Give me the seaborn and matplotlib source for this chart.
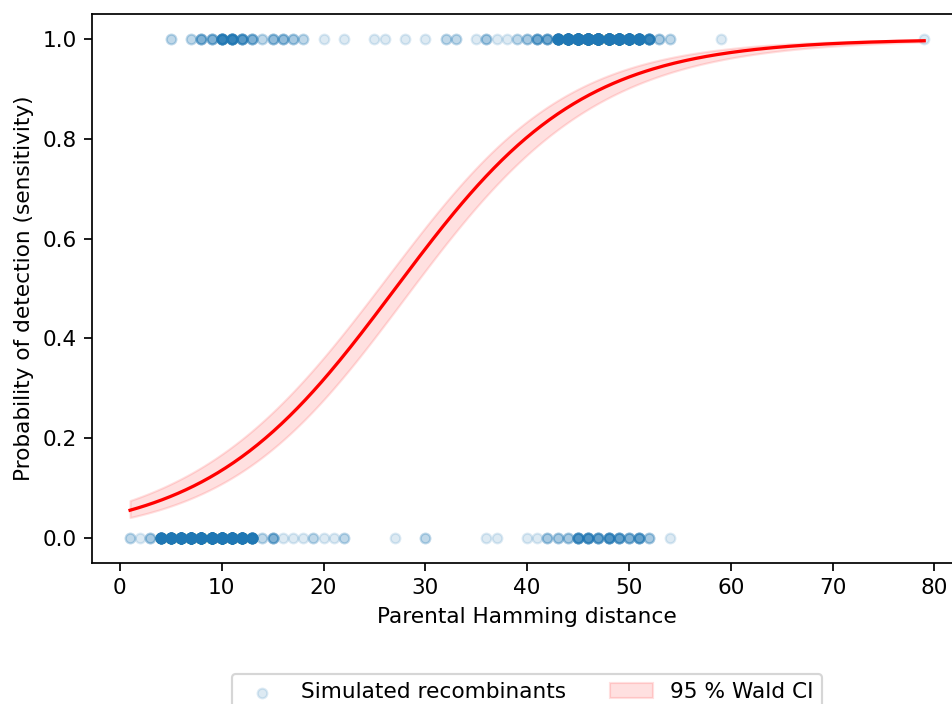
import matplotlib
matplotlib.use("Agg")
import matplotlib.pyplot as plt
import numpy as np
import seaborn as sns

# Recombinants that were detected (y = 1): hamming distance and how many
det_dist = [5, 7, 8, 9, 10, 11, 12, 13, 14, 15, 16, 17, 18, 20, 22, 25, 26, 28,
            30, 32, 33, 35, 36, 37, 38, 39, 40, 41, 42, 43, 44, 45, 46, 47, 48,
            49, 50, 51, 52, 53, 54, 59, 79]
det_count = [2, 2, 5, 5, 13, 13, 8, 5, 2, 4, 4, 3, 2, 1, 1, 1, 1, 1,
             1, 2, 2, 1, 3, 1, 1, 2, 3, 6, 6, 25, 45, 65, 78, 82, 78,
             65, 50, 32, 13, 3, 2, 1, 1]

# Recombinants that were missed (y = 0)
miss_dist = [1, 2, 3, 4, 5, 6, 7, 8, 9, 10, 11, 12, 13, 14, 15, 16, 17, 18, 19,
             20, 21, 22, 27, 30, 36, 37, 40, 41, 42, 43, 44, 45, 46, 47, 48,
             49, 50, 51, 52, 54]
miss_count = [2, 1, 3, 26, 36, 46, 52, 54, 58, 58, 50, 40, 20, 2, 5, 1, 1, 1, 2,
              1, 1, 2, 1, 2, 1, 1, 1, 1, 3, 3, 3, 9, 9, 7, 9,
              7, 5, 7, 3, 1]

x = np.concatenate([np.repeat(det_dist, det_count), np.repeat(miss_dist, miss_count)]).astype(float)
y = np.concatenate([np.ones(sum(det_count)), np.zeros(sum(miss_count))])

# logistic regression by IRLS
X = np.column_stack([np.ones_like(x), x])
beta = np.zeros(2)
for _ in range(50):
    p = 1 / (1 + np.exp(-X @ beta))
    w = p * (1 - p)
    H = X.T @ (X * w[:, None])
    beta = beta + np.linalg.solve(H, X.T @ (y - p))
p = 1 / (1 + np.exp(-X @ beta))
cov = np.linalg.inv(X.T @ (X * (p * (1 - p))[:, None]))

xg = np.linspace(x.min(), x.max(), 300)
Xg = np.column_stack([np.ones_like(xg), xg])
eta = Xg @ beta
se = np.sqrt(np.einsum("ij,jk,ik->i", Xg, cov, Xg))
fit = 1 / (1 + np.exp(-eta))
lo = 1 / (1 + np.exp(-(eta - 1.96 * se)))
hi = 1 / (1 + np.exp(-(eta + 1.96 * se)))

fig = plt.figure(figsize=(952 / 156, 704 / 156), dpi=156)
ax = fig.add_axes([0.0963, 0.2003, 0.9148, 0.7798])

sns.scatterplot(x=x, y=y, color="tab:blue", edgecolor="tab:blue", linewidth=1,
                alpha=0.15, s=20, ax=ax, label="Simulated recombinants", legend=False)
ax.fill_between(xg, lo, hi, color="red", alpha=0.12, label="95 % Wald CI")
sns.lineplot(x=xg, y=fit, color="red", linewidth=1.5, ax=ax, legend=False)

ax.set_xlim(-2.77, 82.77)
ax.set_ylim(-0.05, 1.05)
ax.set_xlabel("Parental Hamming distance")
ax.set_ylabel("Probability of detection (sensitivity)")

h, l = ax.get_legend_handles_labels()
ax.legend(h[:2], l[:2], loc="upper center", bbox_to_anchor=(0.5, -0.182), ncol=2)

fig.savefig("out.png", dpi=156)
